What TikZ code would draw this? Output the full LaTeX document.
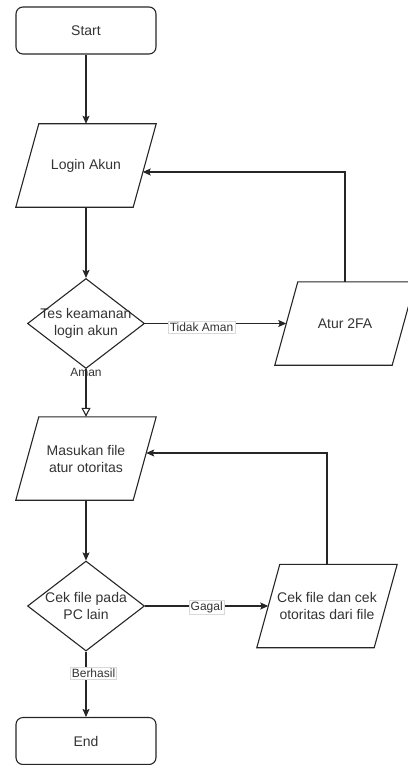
\documentclass[tikz,border=0pt]{standalone}
\usepackage{fontspec}
\setmainfont{Liberation Sans}
\usetikzlibrary{shapes.geometric,arrows.meta}
\tikzset{
  ln/.style={line width=1.1pt, draw=black!85},
  arr/.style={ln, -{Stealth[length=8pt,width=7pt,inset=1.5pt]}},
  openarr/.style={ln, -{Triangle[open,length=9pt,width=9pt]}},
  txt/.style={font=\fontsize{14}{17}\selectfont, align=center, inner sep=0pt, text=black!80},
  term/.style={draw, ln, rounded corners=7pt, minimum width=140pt, minimum height=47pt, txt},
  dia/.style={diamond, draw, ln, minimum width=117pt, minimum height=90pt, inner sep=0pt},
  lbl/.style={font=\fontsize{12}{14}\selectfont, text=black!80, inner sep=1.5pt},
  lblbox/.style={lbl, fill=white, draw=black!15, line width=0.4pt},
}
\newcommand\myparal[4]{%
  \node[txt, minimum width=140pt, minimum height=83pt] (#1) at (#2,#3) {#4};
  \draw[ln] ([xshift=23pt]#1.north west) -- (#1.north east) -- ([xshift=-23pt]#1.south east) -- (#1.south west) -- cycle;
}
\begin{document}
\begin{tikzpicture}[x=1pt,y=-1pt]
\useasboundingbox (0,0) rectangle (407,765);
\node[term] (start) at (86,30.5) {Start};
\myparal{login}{86}{165.5}{Login Akun}
\node[dia] (tes) at (86,323.5) {};
\node[txt] (testxt) at (tes.center) {Tes keamanan\\login akun};
\myparal{atur}{345}{323.5}{Atur 2FA}
\myparal{masuk}{86}{458.5}{Masukan file\\atur otoritas}
\node[dia] (cek) at (86,606) {};
\node[txt] (cektxt) at (cek.center) {Cek file pada\\PC lain};
\myparal{cekf}{327}{606}{Cek file dan cek\\otoritas dari file}
\node[term] (end) at (86,741) {End};

\coordinate (loginR) at (142.7,172);
\coordinate (masR) at (146.2,453);

\draw[arr] (start) -- (login);
\draw[arr] (login) -- (tes);
\draw[arr] (tes.east) -- ([xshift=11.5pt]atur.west)
  node[lblbox, pos=0.4, yshift=-3.5pt] (lta) {Tidak Aman};
\draw[arr] (atur.north) |- (loginR);
\draw[openarr] (tes.south) -- (masuk);
\node[lbl] (laman) at (86,372) {Aman};
\draw[arr] (masuk) -- (cek);
\draw[arr] (cek.east) -- ([xshift=11.5pt]cekf.west)
  node[lblbox, pos=0.5, yshift=-1pt] (lgg) {Gagal};
\draw[arr] (cekf.north) |- (masR);
\draw[arr] (cek.south) -- (end);
\node[lblbox] (lbh) at (93.5,673) {Berhasil};
\end{tikzpicture}
\end{document}
